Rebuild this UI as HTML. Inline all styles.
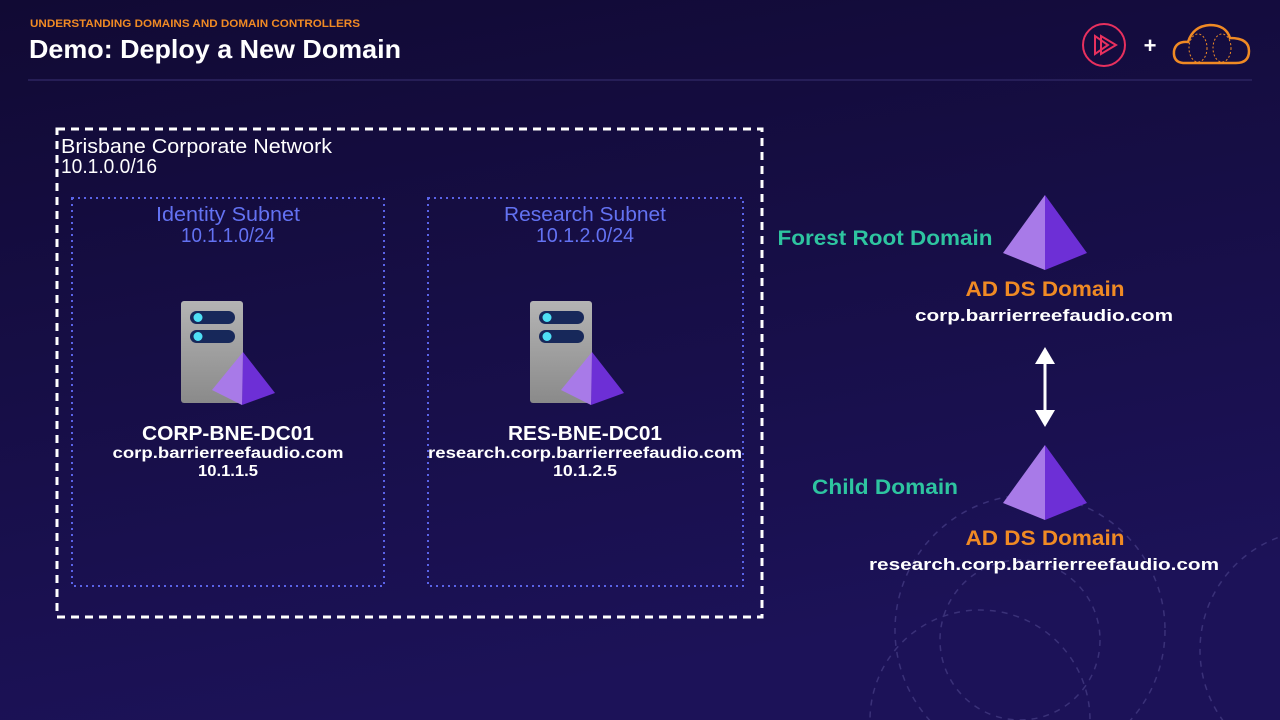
<!DOCTYPE html>
<html><head><meta charset="utf-8"><style>
html,body{margin:0;padding:0;width:1280px;height:720px;overflow:hidden;background:#150d40}
svg{display:block;position:absolute;left:0;top:0}
text{font-family:"Liberation Sans",sans-serif}
</style></head><body>
<svg width="1280" height="720" viewBox="0 0 1280 720">
<defs>
<linearGradient id="bg" x1="0" y1="0" x2="0.3" y2="1"><stop offset="0" stop-color="#110a34"/><stop offset="1" stop-color="#1c1258"/></linearGradient>
<linearGradient id="srv" x1="0" y1="0" x2="0" y2="1"><stop offset="0" stop-color="#b4b4b4"/><stop offset="1" stop-color="#8a8a8a"/></linearGradient>
<g id="server">
<rect x="0" y="0" width="62" height="102" rx="3" fill="url(#srv)"/>
<rect x="9" y="10" width="45" height="13" rx="6.5" fill="#17285a"/>
<rect x="9" y="29" width="45" height="13" rx="6.5" fill="#17285a"/>
<circle cx="17" cy="16.5" r="4.5" fill="#4fe0f5"/>
<circle cx="17" cy="35.5" r="4.5" fill="#4fe0f5"/>
<polygon points="62,51 31,89 61,104" fill="#a87ae8"/>
<polygon points="62,51 94,92 61,104" fill="#6d2fd6"/>
</g>
<g id="pyr">
<polygon points="0,0 -42,58 0,75" fill="#a87ae8"/>
<polygon points="0,0 42,58 0,75" fill="#6d2fd6"/>
</g>
</defs>
<rect width="1280" height="720" fill="url(#bg)"/>
<g fill="none" stroke="#3a3178" stroke-width="1.5" stroke-dasharray="6 6">
<circle cx="1030" cy="630" r="135"/>
<circle cx="1020" cy="640" r="80"/>
<circle cx="980" cy="720" r="110"/>
<circle cx="1320" cy="650" r="120"/>
</g>
<line x1="28" y1="80" x2="1252" y2="80" stroke="#2c2560" stroke-width="1.5"/>
<text x="30" y="27" font-size="11" font-weight="bold" fill="#f08a24" textLength="330" lengthAdjust="spacingAndGlyphs">UNDERSTANDING DOMAINS AND DOMAIN CONTROLLERS</text>
<text x="29" y="58" font-size="26" font-weight="bold" fill="#fff" textLength="372" lengthAdjust="spacingAndGlyphs">Demo: Deploy a New Domain</text>
<circle cx="1104" cy="45" r="21" fill="none" stroke="#e8305e" stroke-width="2"/>
<polygon points="1095,36 1095,54 1108,45" fill="none" stroke="#e8305e" stroke-width="2"/>
<polygon points="1101,36 1101,54 1116,45" fill="none" stroke="#e8305e" stroke-width="2"/>
<text x="1150" y="53" font-size="22" font-weight="bold" fill="#fff" text-anchor="middle">+</text>
<path d="M1183,63 Q1173,62 1174,51 Q1176,41 1188,42 Q1193,26 1210,25 Q1226,25 1230,38 Q1249,38 1249,51 Q1249,63 1236,63 Z" fill="none" stroke="#f08a24" stroke-width="2.5"/>
<g fill="none" stroke="#f08a24" stroke-width="1" stroke-dasharray="2 2">
<ellipse cx="1198" cy="48" rx="9" ry="14"/><ellipse cx="1222" cy="48" rx="9" ry="14"/>
</g>
<rect x="57" y="129" width="705" height="488" fill="none" stroke="#fff" stroke-width="3" stroke-dasharray="8 6"/>
<text x="61" y="153" font-size="20" fill="#fff" textLength="271" lengthAdjust="spacingAndGlyphs">Brisbane Corporate Network</text>
<text x="61" y="173" font-size="20" fill="#fff" textLength="96" lengthAdjust="spacingAndGlyphs">10.1.0.0/16</text>
<g fill="none" stroke="#5a63e8" stroke-width="2" stroke-dasharray="2 4">
<rect x="72" y="198" width="312" height="388"/>
<rect x="428" y="198" width="315" height="388"/>
</g>
<g font-size="20" fill="#6372f2" text-anchor="middle">
<text x="228" y="221" textLength="144" lengthAdjust="spacingAndGlyphs">Identity Subnet</text><text x="228" y="242" textLength="94" lengthAdjust="spacingAndGlyphs">10.1.1.0/24</text>
<text x="585" y="221" textLength="162" lengthAdjust="spacingAndGlyphs">Research Subnet</text><text x="585" y="242" textLength="98" lengthAdjust="spacingAndGlyphs">10.1.2.0/24</text>
</g>
<use href="#server" x="181" y="301"/>
<use href="#server" x="530" y="301"/>
<g fill="#fff" font-weight="bold" text-anchor="middle">
<text x="228" y="440" font-size="20" textLength="172" lengthAdjust="spacingAndGlyphs">CORP-BNE-DC01</text>
<text x="228" y="458" font-size="16" textLength="231" lengthAdjust="spacingAndGlyphs">corp.barrierreefaudio.com</text>
<text x="228" y="476" font-size="16" textLength="60" lengthAdjust="spacingAndGlyphs">10.1.1.5</text>
<text x="585" y="440" font-size="20" textLength="154" lengthAdjust="spacingAndGlyphs">RES-BNE-DC01</text>
<text x="585" y="458" font-size="16" textLength="314" lengthAdjust="spacingAndGlyphs">research.corp.barrierreefaudio.com</text>
<text x="585" y="476" font-size="16" textLength="64" lengthAdjust="spacingAndGlyphs">10.1.2.5</text>
</g>
<use href="#pyr" x="1045" y="195"/>
<use href="#pyr" x="1045" y="445"/>
<g font-weight="bold" font-size="21" text-anchor="middle">
<text x="885" y="245" fill="#2ec4a0" textLength="215" lengthAdjust="spacingAndGlyphs">Forest Root Domain</text>
<text x="885" y="494" fill="#2ec4a0" textLength="146" lengthAdjust="spacingAndGlyphs">Child Domain</text>
<text x="1045" y="296" fill="#f08a24" textLength="159" lengthAdjust="spacingAndGlyphs">AD DS Domain</text>
<text x="1045" y="545" fill="#f08a24" textLength="159" lengthAdjust="spacingAndGlyphs">AD DS Domain</text>
<text x="1044" y="321" font-size="17" fill="#fff" textLength="258" lengthAdjust="spacingAndGlyphs">corp.barrierreefaudio.com</text>
<text x="1044" y="570" font-size="17" fill="#fff" textLength="350" lengthAdjust="spacingAndGlyphs">research.corp.barrierreefaudio.com</text>
</g>
<line x1="1045" y1="360" x2="1045" y2="414" stroke="#fff" stroke-width="3"/>
<polygon points="1045,347 1035,364 1055,364" fill="#fff"/>
<polygon points="1045,427 1035,410 1055,410" fill="#fff"/>
</svg>
</body></html>
